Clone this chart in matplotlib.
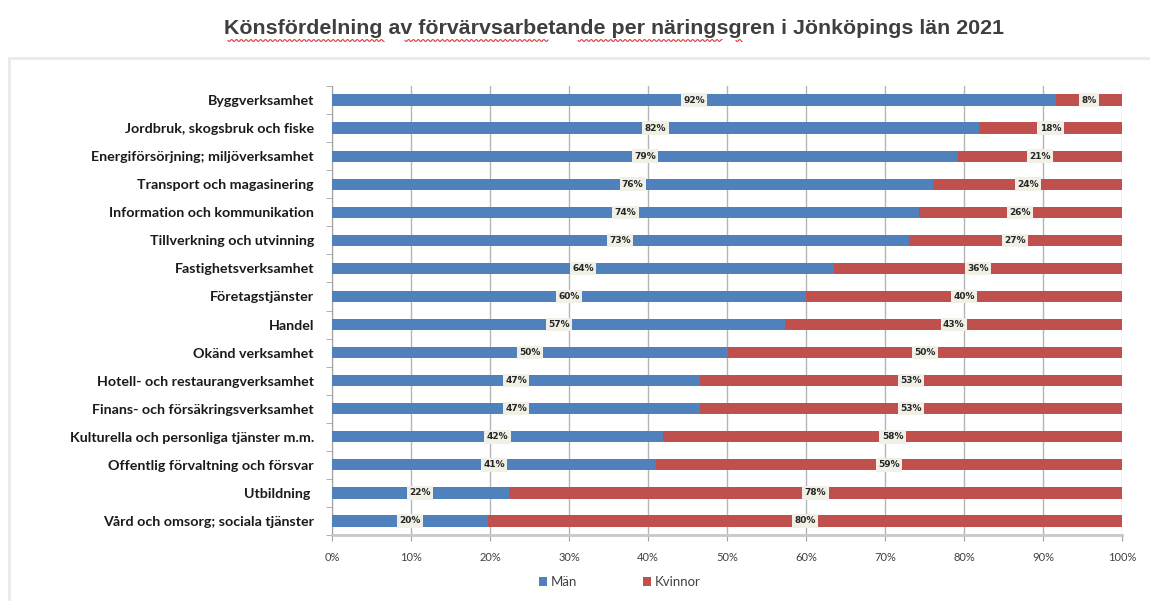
import numpy as np
import matplotlib.pyplot as plt
from matplotlib.patches import Rectangle
from matplotlib.lines import Line2D

categories = ['Byggverksamhet', 'Jordbruk, skogsbruk och fiske',
              'Energiförsörjning; miljöverksamhet', 'Transport och magasinering',
              'Information och kommunikation', 'Tillverkning och utvinning',
              'Fastighetsverksamhet', 'Företagstjänster', 'Handel',
              'Okänd verksamhet', 'Hotell- och restaurangverksamhet',
              'Finans- och försäkringsverksamhet',
              'Kulturella och personliga tjänster m.m.',
              'Offentlig förvaltning och försvar', 'Utbildning ',
              'Vård och omsorg; sociala tjänster']
man = [91.6, 81.9, 79.2, 76.1, 74.3, 73.0, 63.5, 60.0, 57.4, 50.1, 46.6, 46.6, 41.9, 41.0, 22.4, 19.7]
kvinnor = [8.4, 18.1, 20.8, 23.9, 25.7, 27.0, 36.5, 40.0, 42.6, 49.9, 53.4, 53.4, 58.1, 59.0, 77.6, 80.3]
xticks = [0, 10, 20, 30, 40, 50, 60, 70, 80, 90, 100]

blue = '#4F81BD'
red = '#C0504D'
W, H = 1150, 601

fig = plt.figure(figsize=(11.5, 6.01), dpi=100)
fig.patch.set_facecolor('white')

# light outer frame of the chart object
fig.patches.append(Rectangle((9 / W, -0.05), 1.1, 1 - 58 / H + 0.05, transform=fig.transFigure,
                             fill=False, edgecolor='#ebebeb', lw=2.2))

fig.text(614 / W, 1 - 28 / H, 'Könsfördelning av förvärvsarbetande per näringsgren i Jönköpings län 2021',
         ha='center', va='center', fontsize=15.4, fontweight='bold', color='#3f3f3f',
         family='Liberation Sans')

# spell-check squiggles under the title
for x0, x1 in [(228, 384), (405, 548), (578, 722), (736, 742)]:
    xs = np.linspace(x0, x1, int((x1 - x0) * 1.2) + 2)
    ys = 1 - (40.5 + 1.0 * np.sin((xs - x0) * 1.3)) / H
    fig.lines.append(Line2D(xs / W, ys, transform=fig.transFigure, color='#e03c3c', lw=0.8))

ax = fig.add_axes([332 / W, 1 - 535 / H, (1122 - 332) / W, (535 - 86) / H])
y = np.arange(len(categories))
ax.barh(y, man, height=0.4, color=blue, label='Män', zorder=3)
ax.barh(y, kvinnor, left=man, height=0.4, color=red, label='Kvinnor', zorder=3)

box = dict(boxstyle='square,pad=0.25', facecolor='#f1f0e6', edgecolor='none')
for i in range(len(categories)):
    ax.text(man[i] / 2, y[i], '%d%%' % round(man[i]), ha='center', va='center',
            fontsize=6.5, fontweight='bold', color='#262626', bbox=box, zorder=4)
    ax.text(man[i] + kvinnor[i] / 2, y[i], '%d%%' % round(kvinnor[i]), ha='center', va='center',
            fontsize=6.5, fontweight='bold', color='#262626', bbox=box, zorder=4)

ax.set_xlim(0, 100)
ax.set_ylim(len(categories) - 0.5, -0.5)
ax.set_xticks(xticks)
ax.set_xticklabels(['%d%%' % v for v in xticks], fontsize=8, color='#404040', family='Lato')
ax.set_yticks(y)
ax.set_yticklabels(categories, fontsize=10.3, fontweight='bold', color='#1a1a1a', family='Lato')
ax.tick_params(axis='y', length=0, pad=13)
ax.set_yticks(np.arange(-0.5, len(categories)), minor=True)
ax.tick_params(axis='y', which='minor', length=4, color='#a0a0a0', direction='out')
ax.tick_params(axis='x', length=4, color='#a0a0a0', direction='out', pad=8)
ax.xaxis.grid(True, color='#b5b5b5', lw=1.0, zorder=0)

for s in ['top', 'right']:
    ax.spines[s].set_visible(False)
ax.spines['left'].set_color('#a0a0a0')
ax.spines['bottom'].set_color('#c8c8c8')
ax.spines['bottom'].set_linewidth(2)

fig.legend(loc='center', bbox_to_anchor=(620 / W, 1 - 582 / H), ncol=2, frameon=False,
           handlelength=0.6, handleheight=0.6, handletextpad=0.3, columnspacing=5,
           prop={'family': 'Lato', 'size': 9.5}, labelcolor='#404040')

fig.savefig('out.png', dpi=100)
